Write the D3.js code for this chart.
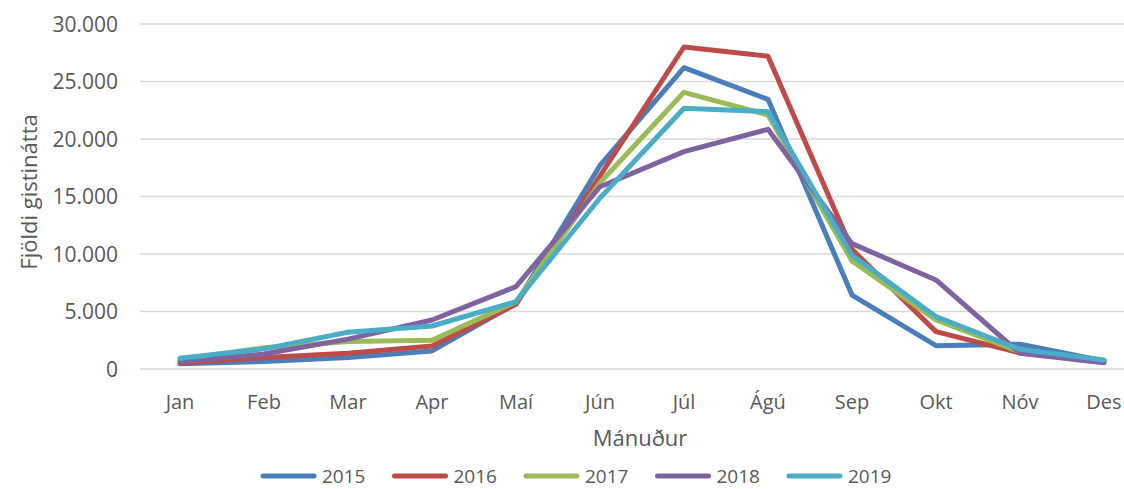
<!DOCTYPE html>
<html>
<head>
<meta charset="utf-8">
<script src="https://cdn.jsdelivr.net/npm/d3@7"></script>
<style>
  html, body { margin: 0; padding: 0; background: #fff; }
  svg { display: block; font-family: "Open Sans", "Noto Sans", sans-serif; }
</style>
</head>
<body>
<svg id="chart"></svg>
<script>
const months = ["Jan", "Feb", "Mar", "Apr", "Maí", "Jún", "Júl", "Ágú", "Sep", "Okt", "Nóv", "Des"];
const years = ["2015", "2016", "2017", "2018", "2019"];
const yTicks = [0, 5000, 10000, 15000, 20000, 25000, 30000];

const v2015 = [450, 650, 1000, 1570, 5700, 17700, 26200, 23450, 6430, 2030, 2150, 700];
const v2016 = [500, 1000, 1360, 2000, 5620, 16800, 28000, 27200, 10400, 3250, 1400, 650];
const v2017 = [800, 1850, 2400, 2500, 5850, 16200, 24060, 22090, 9400, 4260, 1500, 700];
const v2018 = [640, 1300, 2600, 4260, 7160, 15850, 18900, 20840, 10900, 7740, 1360, 550];
const v2019 = [930, 1750, 3190, 3740, 5850, 14870, 22670, 22380, 9900, 4550, 1710, 780];

const seriesValues = [v2015, v2016, v2017, v2018, v2019];
const colors = ["#4a7ebb", "#be4b48", "#9bbb59", "#7f63a1", "#4bacc6"];

const width = 1124, height = 489;
const textColor = "#595959";

const svg = d3.select("#chart").attr("width", width).attr("height", height);

// category axis is wider than the window, the right edge is cut off like the original
const x = d3.scaleBand().domain(months).range([138, 1146]);
const y = d3.scaleLinear().domain([0, 30000]).range([369, 24]);
const cx = (m) => x(m) + x.bandwidth() / 2;

const isl = d3.formatLocale({ decimal: ",", thousands: ".", grouping: [3], currency: ["", ""] });
const fmt = isl.format(",");

// gridlines
svg.append("g")
  .selectAll("line")
  .data(yTicks)
  .join("line")
  .attr("x1", 140)
  .attr("x2", width)
  .attr("y1", (d) => y(d))
  .attr("y2", (d) => y(d))
  .attr("stroke", "#d9d9d9")
  .attr("stroke-width", 1.5);

// y tick labels
svg.append("g")
  .selectAll("text")
  .data(yTicks)
  .join("text")
  .attr("x", 118)
  .attr("y", (d) => y(d))
  .attr("dy", "0.36em")
  .attr("text-anchor", "end")
  .attr("font-size", 21)
  .attr("fill", textColor)
  .text((d) => fmt(d));

// x tick labels
svg.append("g")
  .selectAll("text")
  .data(months)
  .join("text")
  .attr("x", (d) => cx(d))
  .attr("y", 409)
  .attr("text-anchor", "middle")
  .attr("font-size", 20)
  .attr("fill", textColor)
  .text((d) => d);

// axis titles
svg.append("text")
  .attr("x", 640)
  .attr("y", 446)
  .attr("text-anchor", "middle")
  .attr("font-size", 22)
  .attr("fill", textColor)
  .text("Mánuður");

svg.append("text")
  .attr("transform", "rotate(-90)")
  .attr("x", -192)
  .attr("y", 37)
  .attr("text-anchor", "middle")
  .attr("font-size", 22)
  .attr("fill", textColor)
  .text("Fjöldi gistinátta");

// lines
const line = d3.line()
  .x((d, i) => cx(months[i]))
  .y((d) => y(d));

svg.append("g")
  .selectAll("path")
  .data(seriesValues)
  .join("path")
  .attr("d", (d) => line(d))
  .attr("fill", "none")
  .attr("stroke", (d, i) => colors[i])
  .attr("stroke-width", 5)
  .attr("stroke-linejoin", "round")
  .attr("stroke-linecap", "round");

// legend
const legend = svg.append("g")
  .selectAll("g")
  .data(years)
  .join("g")
  .attr("transform", (d, i) => `translate(${263 + i * 131.5},476)`);

legend.append("line")
  .attr("x1", 0)
  .attr("x2", 51)
  .attr("stroke", (d, i) => colors[i])
  .attr("stroke-width", 5)
  .attr("stroke-linecap", "round");

legend.append("text")
  .attr("x", 59)
  .attr("dy", "0.36em")
  .attr("font-size", 19)
  .attr("fill", textColor)
  .text((d) => d);
</script>
</body>
</html>
